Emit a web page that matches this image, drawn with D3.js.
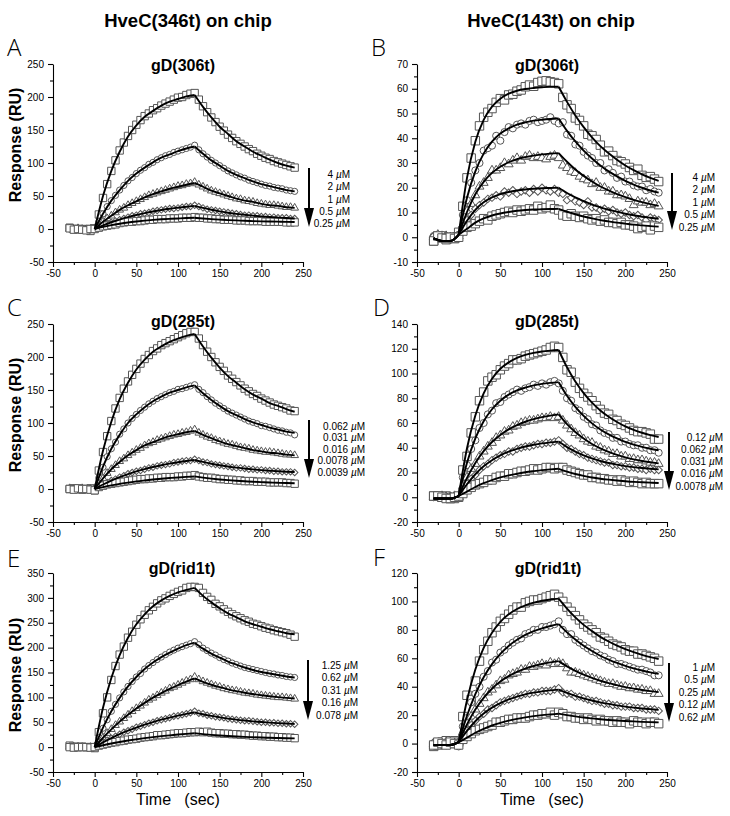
<!DOCTYPE html>
<html>
<head>
<meta charset="utf-8">
<script src="https://cdnjs.cloudflare.com/ajax/libs/d3/7.8.5/d3.min.js"></script>
<style>
  body { margin: 0; background: #fff; }
  svg { display: block; font-family: "Liberation Sans", Arial, Helvetica, sans-serif; }
</style>
</head>
<body>
<svg id="fig" width="730" height="816"></svg>
<script>
// time points (sec) of the sensorgram samples and of the fitted curves
const tData = [-30,-25,-20,-15,-10,-5,0,5,10,15,20,25,30,35,40,45,50,55,60,65,70,75,80,85,90,95,100,105,110,115,120,125,130,135,140,145,150,155,160,165,170,175,180,185,190,195,200,205,210,215,220,225,230,235,240];
const tFit0 = [0,10,20,30,40,50,60,70,80,90,100,110,120,130,140,150,160,170,180,190,200,210,220,230,240];
const tFitB = [-30,-20,-10,0,10,20,30,40,50,60,70,80,90,100,110,120,130,140,150,160,170,180,190,200,210,220,230,240];

// ---- A : HveC(346t) chip, gD(306t)
const respA1 = [2,0,0,-1,0,-3,1, 22,47,68,88,104,119,131,141,150,158,165,171,175,180,183,187,190,193,196,199,200,203,205,206, 196,186,177,169,162,155,149,143,138,133,129,125,121,118,114,111,108,106,103,101,99,97,95,93];
const respA2 = [0,1,-1,0,1,-1,0, 11,23,34,43,51,59,66,73,78,84,89,93,98,101,105,108,111,113,116,118,120,122,124,127, 120,114,109,104,100,96,92,88,85,82,79,77,74,72,70,68,66,65,63,62,61,59,58,57];
const respA3 = [0,-1,1,0,-1,0,1, 6,11,16,20,25,29,32,36,39,42,45,48,51,53,55,57,59,61,63,65,66,68,69,71, 67,64,61,58,56,54,52,50,48,46,45,43,42,41,39,38,37,36,36,35,34,33,33,32];
const respA4 = [1,0,0,-1,0,1,0, 3,5,8,10,12,14,16,18,20,21,23,24,25,27,28,29,30,31,31,32,33,34,34,36, 34,32,30,29,28,27,26,25,24,23,22,21,21,20,20,19,19,18,18,17,17,17,16,16];
const respA5 = [1,-1,0,-1,-2,0,0, 2,4,5,6,7,9,10,11,11,12,12,13,14,14,15,15,15,16,16,16,17,17,17,18, 17,17,16,16,15,15,14,14,14,13,13,13,12,12,12,12,11,11,11,11,11,10,10,10];
const fitA1 = [0,50,88,117,140,157,170,179,187,193,197,201,203,185,169,155,144,133,125,117,111,105,100,96,93];
const fitA2 = [0,23,43,59,73,84,93,101,108,113,118,122,125,114,104,96,88,82,77,72,68,65,62,59,57];
const fitA3 = [0,11,20,29,36,42,48,53,57,61,64,67,70,64,58,54,50,46,43,41,38,36,35,33,32];
const fitA4 = [0,5.4,10.2,14.3,18.0,21.2,24.0,26.5,28.7,30.6,32.2,33.7,35,31.9,29.1,26.8,24.7,23.0,21.5,20.2,19.1,18.1,17.3,16.6,16.0];
const fitA5 = [0,3.2,5.8,8.0,9.9,11.4,12.7,13.8,14.7,15.4,16.0,16.6,17,15.9,15.0,14.2,13.5,13.0,12.5,12.0,11.6,11.3,11.1,10.8,10.6];
const concA = ["4","2","1","0.5","0.25"];

// ---- B : HveC(143t) chip, gD(306t)
const respB1 = [-1.5,0.5,0.5,-1,0,-0.5,2, 12.5,24,32,39,45,48.5,50.5,52,54.5,56,55.5,57.5,57.8,59,59.5,60.8,61.5,61,62.5,63,63.2,62.8,62.5,62, 56.5,53.5,52,48.2,47.2,45,41.6,41,39.5,37.2,34.5,34.8,33,31,30.5,29.6,28.2,27,27.5,25,24.2,24.5,23.5,22.5];
const respB2 = [0.5,-0.5,1,0,-1,0.5,1, 9,15,22,27,30,35,36,37,41,39,42.5,44.5,44,45.5,46,45.5,47,47.5,46.5,47,47.5,48.5,47,46, 46.5,41.5,41,37.5,37,34.5,33,32,30,30,27,27.5,26,24,24.5,22.5,22.5,21,20.5,20.5,19,19.5,18.5,18];
const respB3 = [0,1,-0.5,0.5,0,-1,0.5, 5,10.5,13.5,17,20.5,22,24,27,27,28,30,29.5,31,32,31,32.5,33,32,32.5,32,31.5,32.5,33,32, 29,28,26.5,26,24.5,23.5,23,21.5,22,20,20,18.5,18.5,17,17,16.5,15.5,13,14.5,14,14,13,13.5,12.5];
const respB4 = [0.5,0,-0.5,0.5,0,0.5,1, 4,7,9,11.5,13,14,15.5,16,17,16.5,18.5,18,19,17.5,18.5,19,18,19.5,18.5,20,19,18.5,19.5,18, 17.5,15,16,14.5,14,13,14.5,12,12,11,11.5,10.5,11,10,9.5,10,9,8.5,9,8,7,8,7.5,7];
const respB5 = [-1.5,0.5,-0.3,-0.5,0,-0.5,0, 2.5,4,4.5,5.5,6.5,7.5,7,8.5,9,9.5,10,10.5,10,11,10.5,11,11.5,11,12.5,11.5,12,13,11.5,11, 9,8.5,9.5,8.5,8,8.5,7.5,7,7.5,6.5,7,6,6,5.5,6,5,5,4.5,3.5,4,4.5,3,4.5,4];
const fitB1 = [-0.5,-1.5,-1.5,1,24.0,38.6,47.4,52.8,56.0,58.0,59.2,59.9,60.3,60.6,60.8,60.8,54.7,49.2,44.5,40.4,36.8,33.9,31.3,29.0,27.1,25.4,24.0,22.8];
const fitB2 = [-0.5,-1.5,-1.5,1,16.0,26.6,33.8,38.6,41.9,44.0,45.5,46.4,47.1,47.5,47.8,48,43.0,38.7,35.0,31.8,29.0,26.6,24.6,22.8,21.3,20.0,18.9,18.0];
const fitB3 = [-0.5,-1.5,-1.5,1,10.2,17.4,22.4,26.0,28.5,30.3,31.6,32.4,33.0,33.5,33.8,34,30.5,27.4,24.8,22.5,20.5,18.9,17.4,16.2,15.1,14.2,13.4,12.7];
const fitB4 = [-0.5,-1.5,-1.5,1,6.7,11.1,14.1,16.1,17.4,18.3,18.9,19.3,19.6,19.8,19.9,20,17.9,16.1,14.6,13.2,12.1,11.1,10.3,9.5,8.9,8.3,7.9,7.5];
const fitB5 = [-0.5,-1.5,-1.5,1,3.4,5.9,7.6,8.8,9.6,10.2,10.7,11.0,11.2,11.3,11.4,11.5,10.3,9.3,8.4,7.6,6.9,6.4,5.9,5.5,5.1,4.8,4.5,4.3];
const concB = ["4","2","1","0.5","0.25"];

// ---- C : HveC(346t) chip, gD(285t)
const respC1 = [0,1,0,-1,0,1,-2, 28,56,80,103,122,138,152,163,173,182,190,197,203,209,213,218,221,224,227,230,233,236,238,238, 228,218,208,200,192,185,179,172,167,162,157,152,148,144,141,137,134,131,128,126,124,122,119,118];
const respC2 = [0,0,1,-1,0,-1,0, 17,33,49,61,71,83,91,100,107,113,119,124,129,133,137,140,143,146,148,151,152,154,156,158, 151,146,140,135,130,126,122,118,115,112,109,106,103,101,99,96,95,93,91,89,88,86,85,82];
const respC3 = [1,0,0,1,-1,0,0, 8,16,24,30,36,42,46,51,55,59,62,66,69,71,74,76,78,80,82,83,85,86,88,90, 85,82,79,77,74,72,70,68,67,65,63,62,61,59,58,57,56,56,55,54,53,52,52,51];
const respC4 = [0,1,0,0,-1,0,1, 4,7,10,13,15,18,20,23,25,27,28,30,32,33,35,36,37,38,40,41,42,43,43,45, 43,41,40,38,37,36,35,34,33,32,32,31,30,30,29,29,28,28,27,27,26,26,26,25];
const respC5 = [0,-1,1,0,0,-1,-2, 3,5,7,8,9,10,11,12,13,14,15,15,16,16,17,17,18,18,18,19,19,20,20,21, 19,18,17,17,16,15,15,14,14,13,13,12,12,12,11,11,11,10,10,10,10,9,9,8];
const fitC1 = [0,58,102,136,161,181,196,208,216,223,228,232,235,216,199,184,171,161,151,143,137,130,126,121,117];
const fitC2 = [0,34,61,82,100,113,124,133,140,146,150,154,157,145,135,126,118,112,106,101,97,93,90,87,85];
const fitC3 = [0,16,30,41,51,59,66,71,76,80,83,86,88,82,77,72,68,65,62,59,57,55,54,52,51];
const fitC4 = [0,6.8,12.8,18.0,22.6,26.6,30.2,33.3,36.0,38.4,40.5,42.4,44,41.0,38.3,36.0,34.1,32.4,31.0,29.7,28.6,27.7,26.9,26.2,25.7];
const fitC5 = [0,2.9,5.5,7.8,9.7,11.5,13.0,14.4,15.6,16.6,17.5,18.3,19,17.3,15.8,14.5,13.4,12.5,11.7,11.0,10.4,9.8,9.4,9.0,8.7];
const concC = ["0.062","0.031","0.016","0.0078","0.0039"];

// ---- D : HveC(143t) chip, gD(285t)
const respD1 = [1,1,0,1,-1,-1,0, 22,33,52,65,78,85,94,97,99,103,106,108,111,111,112,114,115,116,117,118,119,121,122,121, 113,103,101,93,88,84,81,78,74,71,68,67,63,62,59,58,56,54,53,53,52,51,47,47];
const respD2 = [0,1,0,0,1,-1,1, 16,26,39,46,56,60,67,70,76,77,81,83,85,87,86,88,89,91,90,92,91,93,94,92, 86,80,78,72,70,65,63,59,58,54,52,51,48,48,45,45,43,42,42,40,40,38,38,36];
const respD3 = [0,0,1,0,0,1,0, 9,16,23,27,33,37,41,44,48,50,53,54,57,58,60,61,62,62,63,64,64,65,64,65, 62,58,55,52,50,47,45,44,41,40,38,37,35,35,33,33,31,31,30,30,29,28,28,27];
const respD4 = [1,0,0,1,0,0,1, 6,11,15,18,22,25,27,30,32,34,35,37,37,39,40,41,41,42,43,43,44,44,45,46, 43,40,39,37,35,34,32,31,30,29,28,28,26,26,25,25,24,24,23,23,22,23,22,22];
const respD5 = [1,1,0,-1,-1,0,1, 3,6,8,10,11,12,14,14,16,17,17,19,19,20,21,21,22,23,22,23,24,24,23,24, 24,22,21,20,19,18,18,16,16,15,15,14,14,13,14,13,12,13,12,11,12,11,11,11];
const fitD1 = [-1,-1,-1,1,39.6,66.0,83.9,95.7,103.8,109.0,112.7,115.1,116.7,117.8,118.5,119,105.0,93.5,84.1,76.4,70.1,65.0,60.8,57.2,54.4,52.1,50.2,48.7];
const fitD2 = [-1,-1,-1,1,27.8,47.5,61.4,71.1,78.0,82.9,86.3,88.6,90.4,91.6,92.4,93,82.0,73.1,65.8,59.7,54.8,50.8,47.5,44.7,42.5,40.7,39.2,38.0];
const fitD3 = [-1,-1,-1,1,15.6,27.7,37.3,44.6,50.3,54.8,58.2,61.0,63.1,64.7,66.0,67,59.1,52.7,47.4,43.0,39.5,36.6,34.2,32.2,30.6,29.3,28.3,27.4];
const fitD4 = [-1,-1,-1,1,10.5,18.6,25.0,29.9,33.8,36.8,39.1,41.0,42.4,43.5,44.3,45,40.5,36.9,33.8,31.4,29.3,27.7,26.4,25.2,24.3,23.6,23.0,22.5];
const fitD5 = [-1,-1,-1,1,4.6,8.3,11.4,13.9,16.0,17.7,19.0,20.2,21.1,21.9,22.5,23,20.7,18.8,17.3,16.0,15.0,14.2,13.5,12.9,12.4,12.1,11.8,11.5];
const concD = ["0.12","0.062","0.031","0.016","0.0078"];

// ---- E : HveC(346t) chip, gD(rid1t)
const respE1 = [3,1,0,1,0,0,-2, 30,68,100,135,163,186,202,220,232,246,257,266,275,282,289,295,299,304,308,312,315,320,322,322, 320,310,302,296,288,283,277,272,267,263,259,255,252,248,246,243,240,238,235,233,231,229,226,222];
const respE2 = [1,0,1,0,-1,0,0, 19,38,55,72,86,99,111,122,132,141,148,157,164,170,176,181,186,191,195,199,202,205,208,212, 206,199,194,189,185,180,176,173,169,166,163,160,158,156,154,152,150,148,147,145,144,142,141,140];
const respE3 = [0,0,1,0,-1,0,1, 10,19,28,36,44,51,58,65,72,78,83,89,95,99,104,109,113,118,121,125,129,133,136,141, 136,132,129,126,123,121,118,116,114,113,111,109,108,107,105,104,103,102,101,100,100,99,98,97];
const respE4 = [1,0,0,1,0,0,0, 5,10,14,18,22,26,30,33,36,40,42,45,48,50,53,55,57,59,62,63,65,67,69,72, 68,67,64,63,61,60,59,57,56,55,54,53,53,52,51,50,50,49,49,48,48,47,47,46];
const respE5 = [0,-1,0,0,0,-1,0, 3,5,7,9,10,12,13,15,16,17,19,20,21,22,24,24,25,26,27,28,28,29,30,30, 31,30,31,29,28,28,27,27,26,26,25,25,24,23,23,22,22,21,21,20,20,19,19,18];
const fitE1 = [0,79,139,185,220,247,267,283,295,304,311,316,320,304,291,279,269,261,253,247,242,237,233,229,227];
const fitE2 = [0,39,72,99,122,141,157,170,181,190,198,205,210,198,188,180,172,166,160,155,151,148,145,142,140];
const fitE3 = [0,18.8,35.7,51.2,65.1,77.6,89.0,99.4,108.7,117.0,124.8,131.7,138,131.2,125.4,120.5,116.2,112.5,109.3,106.7,104.2,102.3,100.5,98.9,97.7];
const fitE4 = [0,9.5,18.1,26.0,33.0,39.3,45.2,50.4,55.2,59.4,63.3,66.8,70,66.1,62.7,59.9,57.4,55.2,53.4,51.8,50.4,49.3,48.2,47.4,46.6];
const fitE5 = [0,3.8,7.3,10.4,13.2,15.7,18.1,20.2,22.1,23.7,25.3,26.7,28,26.2,24.7,23.4,22.3,21.3,20.5,19.8,19.2,18.7,18.2,17.8,17.5];
const concE = ["1.25","0.62","0.31","0.16","0.078"];

// ---- F : HveC(143t) chip, gD(rid1t)
const respF1 = [-2,-1,1,2,0,2,1, 19,34,31,44,58,66,72,78,82,86,88,91,94,96,96,99,100,101,101,102,103,104,105,103, 100,96,93,90,87,84,82,80,78,75,74,72,70,69,68,66,65,65,63,63,62,61,60,58];
const respF2 = [0,1,-1,0,1,0,-2, 12,18,29,35,40,47,51,57,59,64,66,69,71,73,74,77,78,80,80,82,82,83,84,86, 80,77,77,73,71,69,67,65,64,62,61,59,58,56,56,55,54,53,52,52,51,50,48,48];
const respF3 = [0,-1,0,1,0,0,1, 8,14,19,24,28,32,36,38,41,44,45,48,49,50,52,52,54,54,55,56,55,57,56,57, 56,53,50,50,49,48,47,46,45,44,43,42,42,41,40,40,39,39,38,38,37,37,35,35];
const respF4 = [1,0,0,-1,0,1,0, 5,9,13,16,19,21,24,25,27,29,30,31,32,33,34,35,35,36,36,37,37,37,38,39, 36,35,35,33,33,32,31,30,30,29,28,28,27,27,26,26,26,25,25,25,24,24,24,23];
const respF5 = [-1,1,0,-1,1,0,-1, 3,5,7,9,10,11,12,13,15,15,16,17,17,18,18,18,19,20,20,21,21,22,20,22, 21,19,19,18,18,17,18,17,16,17,16,16,15,16,15,15,14,16,15,15,14,15,15,14];
const fitF1 = [-1,-1,-1,1,30.5,52.1,67.3,77.9,85.6,90.9,94.7,97.2,99.1,100.5,101.4,102,95.0,88.8,83.5,79.1,75.1,71.8,68.9,66.4,64.3,62.4,60.8,59.5];
const fitF2 = [-1,-1,-1,1,19.6,34.8,46.7,55.9,63.1,68.7,73.0,76.5,79.1,81.1,82.7,84,78.2,73.2,68.8,65.1,61.8,59.1,56.7,54.7,52.9,51.4,50.1,49.0];
const fitF3 = [-1,-1,-1,1,13.5,24.0,32.2,38.6,43.6,47.4,50.4,52.8,54.6,56.0,57.1,58,54.3,51.2,48.5,46.2,44.2,42.5,41.1,39.7,38.7,37.7,36.9,36.2];
const fitF4 = [-1,-1,-1,1,8.9,15.7,21.1,25.3,28.5,31.1,33.0,34.6,35.8,36.7,37.4,38,35.6,33.6,31.8,30.3,29.0,27.9,26.9,26.0,25.3,24.7,24.2,23.7];
const fitF5 = [-1,-1,-1,1,4.2,7.6,10.4,12.7,14.6,16.1,17.4,18.4,19.3,20.0,20.5,21,20.0,19.1,18.3,17.7,17.1,16.6,16.2,15.9,15.6,15.3,15.1,14.9];
const concF = ["1","0.5","0.25","0.12","0.62"];

const xMajor = [-50,0,50,100,150,200,250];
const xMinor = [-25,25,75,125,175,225];
const shapes = ["square","circle","triangle","diamond","square"];

// layout of the six panels
const panels = [
  {L:"A", lx:7,   ly:56,  x0:53,  top:64,  bot:262, yDom:[-50,250], step:50, resp:[respA1,respA2,respA3,respA4,respA5], fit:[fitA1,fitA2,fitA3,fitA4,fitA5], tFit:tFit0, conc:concA, sub:"gD(306t)",  subX:183, subY:71,  ax:309, ay:[168,227], legX:350, legY:[174,186.5,199,211,223], big:false, ylab:145},
  {L:"B", lx:371, ly:56,  x0:417, top:64,  bot:262, yDom:[-10,70],  step:10, resp:[respB1,respB2,respB3,respB4,respB5], fit:[fitB1,fitB2,fitB3,fitB4,fitB5], tFit:tFitB, conc:concB, sub:"gD(306t)",  subX:547, subY:71,  ax:672, ay:[173,230], legX:715, legY:[177,189.5,202,214,227], big:true},
  {L:"C", lx:7,   ly:316, x0:53,  top:324, bot:522, yDom:[-50,250], step:50, resp:[respC1,respC2,respC3,respC4,respC5], fit:[fitC1,fitC2,fitC3,fitC4,fitC5], tFit:tFit0, conc:concC, sub:"gD(285t)",  subX:183, subY:327, ax:309, ay:[420,478], legX:365, legY:[426,437.5,449,460.5,472], big:false, ylab:415},
  {L:"D", lx:373, ly:316, x0:417, top:324, bot:522, yDom:[-20,140], step:20, resp:[respD1,respD2,respD3,respD4,respD5], fit:[fitD1,fitD2,fitD3,fitD4,fitD5], tFit:tFitB, conc:concD, sub:"gD(285t)",  subX:547, subY:327, ax:669, ay:[432,490], legX:723, legY:[437,449,461,473,486], big:true},
  {L:"E", lx:7,   ly:567, x0:53,  top:573, bot:772, yDom:[-50,350], step:50, resp:[respE1,respE2,respE3,respE4,respE5], fit:[fitE1,fitE2,fitE3,fitE4,fitE5], tFit:tFit0, conc:concE, sub:"gD(rid1t)", subX:182, subY:574, ax:308, ay:[660,720], legX:358, legY:[665,677.5,690,702.5,715], big:false, ylab:675, time:true},
  {L:"F", lx:373, ly:566, x0:417, top:573, bot:772, yDom:[-20,120], step:20, resp:[respF1,respF2,respF3,respF4,respF5], fit:[fitF1,fitF2,fitF3,fitF4,fitF5], tFit:tFitB, conc:concF, sub:"gD(rid1t)", subX:548, subY:574, ax:669, ay:[663,722], legX:715, legY:[667,679,692,704,717], big:true, time:true}
];

const svg = d3.select("#fig");

svg.append("text").attr("x", 188).attr("y", 27).attr("text-anchor", "middle")
  .attr("font-size", 18.5).attr("font-weight", "bold").text("HveC(346t) on chip");
svg.append("text").attr("x", 551).attr("y", 27).attr("text-anchor", "middle")
  .attr("font-size", 18.5).attr("font-weight", "bold").text("HveC(143t) on chip");

function marker(kind, big) {
  const s = big ? 1.15 : 1;
  if (kind === "square")   return d3.symbol().type(d3.symbolSquare).size(54 * s * s)();
  if (kind === "circle")   return d3.symbol().type(d3.symbolCircle).size(30 * s * s)();
  if (kind === "triangle") return d3.symbol().type(d3.symbolTriangle).size(26 * s * s)();
  return d3.symbol().type(d3.symbolSquare).size(21 * s * s)();
}

function drawPanel(p) {
  const g = svg.append("g");
  const x = d3.scaleLinear().domain([-50, 250]).range([p.x0, p.x0 + 250]);
  const y = d3.scaleLinear().domain(p.yDom).range([p.bot, p.top]);

  const yMajor = d3.range(p.yDom[0], p.yDom[1] + 0.001, p.step);
  const yMinor = yMajor.slice(0, -1).map(v => v + p.step / 2);

  // axes
  const xa = g.append("g").attr("transform", `translate(0,${p.bot})`)
    .call(d3.axisBottom(x).tickValues(xMajor).tickSize(5).tickSizeOuter(0).tickPadding(3).tickFormat(d => String(d)));
  g.append("g").attr("transform", `translate(0,${p.bot})`)
    .call(d3.axisBottom(x).tickValues(xMinor).tickSize(3).tickFormat(""))
    .call(a => a.select(".domain").remove());
  const ya = g.append("g").attr("transform", `translate(${p.x0},0)`)
    .call(d3.axisLeft(y).tickValues(yMajor).tickSize(5).tickSizeOuter(0).tickPadding(4).tickFormat(d => String(d)));
  g.append("g").attr("transform", `translate(${p.x0},0)`)
    .call(d3.axisLeft(y).tickValues(yMinor).tickSize(3).tickFormat(""))
    .call(a => a.select(".domain").remove());
  g.selectAll(".domain, .tick line").attr("stroke", "#000").attr("stroke-width", 1.1);
  [xa, ya].forEach(a => a.selectAll("text")
    .attr("font-family", '"Liberation Sans", Arial, sans-serif').attr("font-size", 10).attr("fill", "#000"));

  // data markers
  p.resp.forEach((vals, i) => {
    const pts = tData.map((t, k) => [t, vals[k]]);
    const path = marker(shapes[i], p.big);
    g.append("g").selectAll("path").data(pts).join("path")
      .attr("d", path)
      .attr("transform", d => `translate(${x(d[0])},${y(d[1])})` + (shapes[i] === "diamond" ? " rotate(45)" : ""))
      .attr("fill", "#fff").attr("stroke", "#555").attr("stroke-width", 1);
  });

  // fitted curves: baseline, association, dissociation drawn as separate pieces
  const line = d3.line().x(d => x(d[0])).y(d => y(d[1])).curve(d3.curveMonotoneX);
  p.fit.forEach(vals => {
    const pts = p.tFit.map((t, k) => [t, vals[k]]);
    const pieces = [pts.filter(d => d[0] <= 0), pts.filter(d => d[0] >= 0 && d[0] <= 120), pts.filter(d => d[0] >= 120)];
    pieces.filter(s => s.length > 1).forEach(s => {
      g.append("path").attr("d", line(s)).attr("fill", "none")
        .attr("stroke", "#000").attr("stroke-width", 1.9).attr("stroke-linejoin", "round");
    });
  });

  // titles
  g.append("text").attr("x", p.lx).attr("y", p.ly).attr("font-size", 24)
    .attr("font-family", '"Open Sans", "Liberation Sans", sans-serif').attr("font-weight", 300).text(p.L);
  g.append("text").attr("x", p.subX).attr("y", p.subY).attr("text-anchor", "middle")
    .attr("font-size", 16).attr("font-weight", "bold").text(p.sub);
  if (p.ylab) {
    g.append("text").attr("transform", `translate(21,${p.ylab}) rotate(-90)`).attr("text-anchor", "middle")
      .attr("font-size", 16).attr("font-weight", "bold").text("Response (RU)");
  }
  if (p.time) {
    g.append("text").attr("x", p.x0 + 125).attr("y", p.bot + 33).attr("text-anchor", "middle")
      .attr("font-size", 16).style("white-space", "pre").text("Time   (sec)");
  }

  // concentration arrow and labels
  g.append("line").attr("x1", p.ax).attr("x2", p.ax).attr("y1", p.ay[0]).attr("y2", p.ay[1] - 12)
    .attr("stroke", "#000").attr("stroke-width", 2);
  g.append("path").attr("d", `M${p.ax - 5},${p.ay[1] - 19}L${p.ax + 5},${p.ay[1] - 19}L${p.ax},${p.ay[1]}Z`).attr("fill", "#000");
  p.conc.forEach((c, i) => {
    const t = g.append("text").attr("x", p.legX).attr("y", p.legY[i] + 3.5)
      .attr("text-anchor", "end").attr("font-size", 10).text(c + " ");
    t.append("tspan").attr("font-style", "italic").text("\u00b5");
    t.append("tspan").text("M");
  });
}

panels.forEach(drawPanel);
</script>
</body>
</html>
